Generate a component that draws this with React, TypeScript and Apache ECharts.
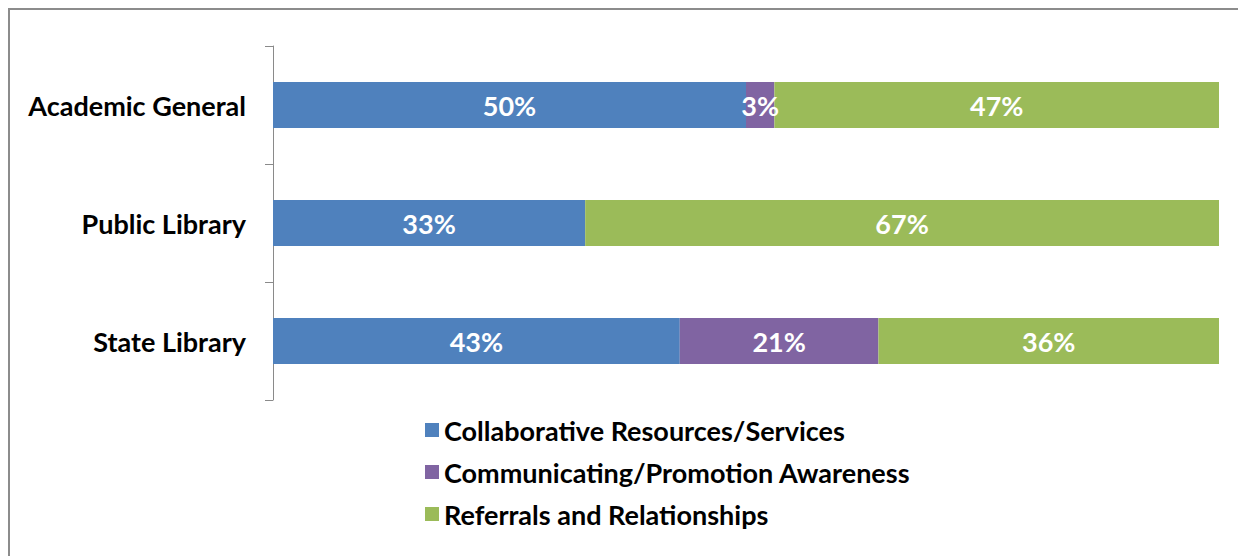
import React, { useEffect, useRef } from "react";
import * as echarts from "echarts";

const categories = ["Academic General", "Public Library", "State Library"];
const seriesNames = [
  "Collaborative Resources/Services",
  "Communicating/Promotion Awareness",
  "Referrals and Relationships",
];
const collaborative = [50, 33, 43];
const communicating = [3, 0, 21];
const referrals = [47, 67, 36];
const colors = ["#4F81BD", "#8064A2", "#9BBB59"];

const FONT = "Lato";

export default function App() {
  const ref = useRef<HTMLDivElement>(null);
  useEffect(() => {
    if (!ref.current) return;
    document.body.style.overflow = "hidden";
    const chart = echarts.init(ref.current, undefined, { renderer: "svg" });
    const values = [collaborative, communicating, referrals];
    chart.setOption({
      animation: false,
      backgroundColor: "#ffffff",
      grid: { left: 265, right: 27, top: 38, bottom: 156, containLabel: false },
      xAxis: { type: "value", min: 0, max: 100, show: false },
      yAxis: {
        type: "category",
        data: categories,
        inverse: true,
        axisLine: { show: true, lineStyle: { color: "#8a8a8a", width: 1 } },
        axisTick: { show: true, length: 8, inside: false, lineStyle: { color: "#8a8a8a" } },
        axisLabel: {
          margin: 27,
          color: "#000",
          fontFamily: FONT,
          fontWeight: "bold",
          fontSize: 27,
        },
      },
      legend: {
        orient: "vertical",
        left: 412,
        top: 403,
        icon: "rect",
        itemWidth: 14,
        itemHeight: 14,
        itemGap: 14,
        textStyle: {
          color: "#000",
          fontFamily: FONT,
          fontWeight: "bold",
          fontSize: 27,
          lineHeight: 28,
        },
        data: seriesNames,
      },
      graphic: [
        { type: "line", shape: { x1: 0, y1: 1, x2: 1238, y2: 1 }, style: { stroke: "#8c8c8c", lineWidth: 2 } },
        { type: "line", shape: { x1: 1, y1: 0, x2: 1, y2: 548 }, style: { stroke: "#8c8c8c", lineWidth: 2 } },
      ],
      series: seriesNames.map((name, i) => ({
        name,
        type: "bar",
        stack: "total",
        barCategoryGap: "61%",
        itemStyle: { color: colors[i] },
        label: {
          show: true,
          position: "inside",
          color: "#fff",
          fontFamily: FONT,
          fontWeight: "bold",
          fontSize: 27,
          formatter: (p: any) => (p.value ? p.value + "%" : ""),
        },
        data: values[i],
      })),
    });
    return () => chart.dispose();
  }, []);
  return <div ref={ref} style={{ width: 1238, height: 548 }} />;
}
